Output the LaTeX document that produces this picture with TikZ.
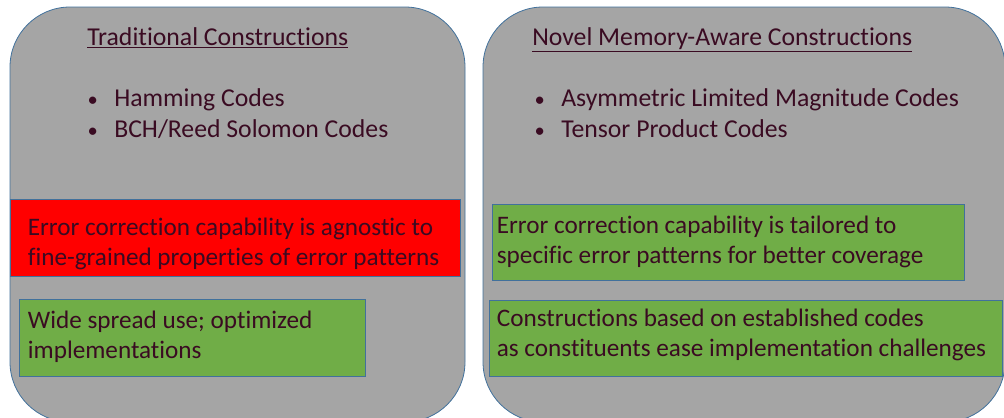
\documentclass[tikz,border=0pt]{standalone}
\usepackage{fontspec}
\setmainfont[Ligatures=NoCommon]{Carlito}
\usepackage{xcolor}
\definecolor{panelgrey}{HTML}{A5A5A5}
\definecolor{edgeblue}{HTML}{41719C}
\definecolor{alertred}{HTML}{FF0000}
\definecolor{okgreen}{HTML}{70AD47}
\definecolor{ink}{HTML}{3A0B22}
\usetikzlibrary{positioning,calc}

\begin{document}
\begin{tikzpicture}[x=0.75pt, y=-0.75pt,
  font=\fontsize{19.3}{22.5}\selectfont, text=ink,
  panel/.style={fill=panelgrey, draw=edgeblue, line width=0.6pt, rounded corners=45pt},
  cbox/.style={draw=edgeblue, line width=0.6pt, inner sep=0pt},
  boxtext/.style={anchor=west, align=left, inner sep=0pt,
    font=\fontsize{18.9}{22.5}\selectfont},
  bulletlist/.style={anchor=north west, align=left, inner sep=0pt,
    font=\fontsize{19.3}{23.25}\selectfont},
  head/.style={anchor=base west, inner sep=0pt}]
\useasboundingbox (0,0) rectangle (1004,418);
% the two panels
\draw[panel] (10,7) rectangle (465,422);
\draw[panel] (483,7) rectangle (1005,422);
% headings
\node[head] (tradhead) at (87,45) {\underline{Traditional Constructions}};
\node[head] (novelhead) at (532,45) {\underline{Novel Memory-Aware Constructions}};
% code families
\newcommand\dotitem{\makebox[21pt][l]{\hspace{1pt}\scalebox{0.8}{\textbullet}}}
\node[bulletlist] (tradlist) at (86,88) {
  \dotitem Hamming Codes\\
  \dotitem BCH/Reed Solomon Codes
};
\node[bulletlist] (novellist) at (533,88) {
  \dotitem Asymmetric Limited Magnitude Codes\\
  \dotitem Tensor Product Codes
};
% left column boxes
\node[cbox, fill=alertred, minimum width=337.5pt, minimum height=57.75pt] (agnostic) at (235,237.5) {};
\node[boxtext] (agnostictext) at ([xshift=13.5pt, yshift=-5pt]agnostic.west) {
  Error correction capability is agnostic to\\
  fine-grained properties of error patterns
};
\node[cbox, fill=okgreen, minimum width=259.5pt, minimum height=57.75pt] (widespread) at (192,337.5) {};
\node[boxtext] (widespreadtext) at ([xshift=6.75pt, yshift=0.5pt]widespread.west) {
  Wide spread use; optimized\\
  implementations
};
% right column boxes
\node[cbox, fill=okgreen, minimum width=354pt, minimum height=57pt] (tailored) at (728,242) {};
\node[boxtext] (tailoredtext) at ([xshift=3.75pt]tailored.west) {
  Error correction capability is tailored to\\
  specific error patterns for better coverage
};
\node[cbox, fill=okgreen, minimum width=384.75pt, minimum height=57pt] (established) at (745.5,338) {};
\node[boxtext] (establishedtext) at ([xshift=6pt, yshift=2pt]established.west) {
  Constructions based on established codes\\
  as constituents ease implementation challenges
};
\end{tikzpicture}
\end{document}
